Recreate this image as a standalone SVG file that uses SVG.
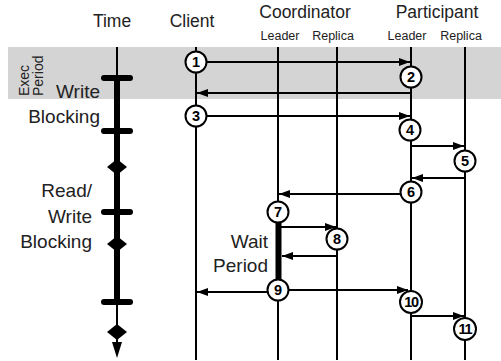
<svg xmlns="http://www.w3.org/2000/svg" width="501" height="361" viewBox="0 0 501 361">
<defs>
<style>
.t{font-family:"Liberation Sans",Arial,sans-serif;fill:#222}
.h{font-size:17.5px;text-anchor:middle}
.s{font-size:12.5px;text-anchor:middle}
.l{font-size:19px;text-anchor:end}
.e{font-size:14px}
.n{font-family:"Liberation Sans",Arial,sans-serif;font-weight:bold;font-size:14.5px;text-anchor:middle;fill:#000}
.ln{stroke:#000;stroke-width:2;fill:none}
.c{fill:#fff;stroke:#000;stroke-width:2}
.tick{stroke:#000;stroke-width:6;stroke-linecap:round}
</style>
<marker id="ah" viewBox="0 0 11 8" refX="11" refY="4" markerWidth="11" markerHeight="8" markerUnits="userSpaceOnUse" orient="auto">
<path d="M0,0 L11,4 L0,8 Z" fill="#000"/>
</marker>
</defs>
<rect width="501" height="361" fill="#fff"/>
<rect x="8" y="47" width="493" height="52" fill="#d4d4d4"/>

<g id="headers">
<text class="t h" x="112" y="27">Time</text>
<text class="t h" x="192" y="27">Client</text>
<text class="t h" x="305" y="18">Coordinator</text>
<text class="t h" x="437" y="18">Participant</text>
<text class="t s" x="280" y="40">Leader</text>
<text class="t s" x="333" y="40">Replica</text>
<text class="t s" x="407" y="40">Leader</text>
<text class="t s" x="461" y="40">Replica</text>
</g>

<g id="labels">
<text class="t e" transform="translate(29,96) rotate(-90)">Exec</text>
<text class="t e" transform="translate(43,96) rotate(-90)">Period</text>
<text class="t l" x="100" y="98">Write</text>
<text class="t l" x="100" y="123">Blocking</text>
<text class="t l" x="92" y="197">Read/</text>
<text class="t l" x="92" y="223">Write</text>
<text class="t l" x="92" y="248">Blocking</text>
<text class="t l" x="268" y="248">Wait</text>
<text class="t l" x="268" y="272">Period</text>
</g>

<g id="timeline">
<line class="ln" x1="117" y1="47" x2="117" y2="344"/>
<line x1="117" y1="78" x2="117" y2="302" stroke="#000" stroke-width="6"/>
<line class="tick" x1="104" y1="78" x2="130" y2="78"/>
<line class="tick" x1="104" y1="131" x2="130" y2="131"/>
<line class="tick" x1="104" y1="212" x2="130" y2="212"/>
<line class="tick" x1="104" y1="302" x2="130" y2="302"/>
<path d="M117,159 L127,167 L117,175 L107,167 Z" fill="#000"/>
<path d="M117,236 L127,244 L117,252 L107,244 Z" fill="#000"/>
<path d="M117,324 L127,332 L117,340 L107,332 Z" fill="#000"/>
<path d="M112,342 L122,342 L117,358 Z" fill="#000"/>
</g>

<g id="lifelines">
<line class="ln" x1="196" y1="47" x2="196" y2="360"/>
<line class="ln" x1="278" y1="47" x2="278" y2="360"/>
<line class="ln" x1="337" y1="47" x2="337" y2="360"/>
<line class="ln" x1="411" y1="47" x2="411" y2="360"/>
<line class="ln" x1="465" y1="47" x2="465" y2="360"/>
<line x1="278.5" y1="221" x2="278.5" y2="281" stroke="#000" stroke-width="6"/>
</g>

<g id="connectors">
<line class="ln" x1="206" y1="62" x2="410" y2="62" marker-end="url(#ah)"/>
<line class="ln" x1="411" y1="93" x2="197" y2="93" marker-end="url(#ah)"/>
<line class="ln" x1="206" y1="116" x2="410" y2="116" marker-end="url(#ah)"/>
<line class="ln" x1="411" y1="146" x2="464" y2="146" marker-end="url(#ah)"/>
<line class="ln" x1="465" y1="178" x2="412" y2="178" marker-end="url(#ah)"/>
<line class="ln" x1="401" y1="194" x2="279" y2="194" marker-end="url(#ah)"/>
<line class="ln" x1="281" y1="227" x2="336" y2="227" marker-end="url(#ah)"/>
<line class="ln" x1="337" y1="256" x2="282" y2="256" marker-end="url(#ah)"/>
<line class="ln" x1="268" y1="292" x2="197" y2="292" marker-end="url(#ah)"/>
<line class="ln" x1="288" y1="290" x2="408" y2="290" marker-end="url(#ah)"/>
<line class="ln" x1="411" y1="316" x2="464" y2="316" marker-end="url(#ah)"/>
</g>

<g id="n1"><circle class="c" cx="196" cy="62" r="10.5"/><text class="n" x="196" y="67">1</text></g>
<g id="n2"><circle class="c" cx="411" cy="77" r="10.5"/><text class="n" x="411" y="82">2</text></g>
<g id="n3"><circle class="c" cx="196" cy="116" r="10.5"/><text class="n" x="196" y="121">3</text></g>
<g id="n4"><circle class="c" cx="410" cy="130" r="10.5"/><text class="n" x="410" y="135">4</text></g>
<g id="n5"><circle class="c" cx="465" cy="161" r="10.5"/><text class="n" x="465" y="166">5</text></g>
<g id="n6"><circle class="c" cx="411" cy="192" r="10.5"/><text class="n" x="411" y="197">6</text></g>
<g id="n7"><circle class="c" cx="278" cy="212" r="10.5"/><text class="n" x="278" y="217">7</text></g>
<g id="n8"><circle class="c" cx="337" cy="239" r="10.5"/><text class="n" x="337" y="244">8</text></g>
<g id="n9"><circle class="c" cx="278" cy="290" r="10.5"/><text class="n" x="278" y="295">9</text></g>
<g id="n10"><circle class="c" cx="411" cy="302" r="11"/><text class="n" x="411" y="307" letter-spacing="-1.2">10</text></g>
<g id="n11"><circle class="c" cx="465" cy="329" r="11"/><text class="n" x="465" y="334" letter-spacing="-1.2">11</text></g>
</svg>
